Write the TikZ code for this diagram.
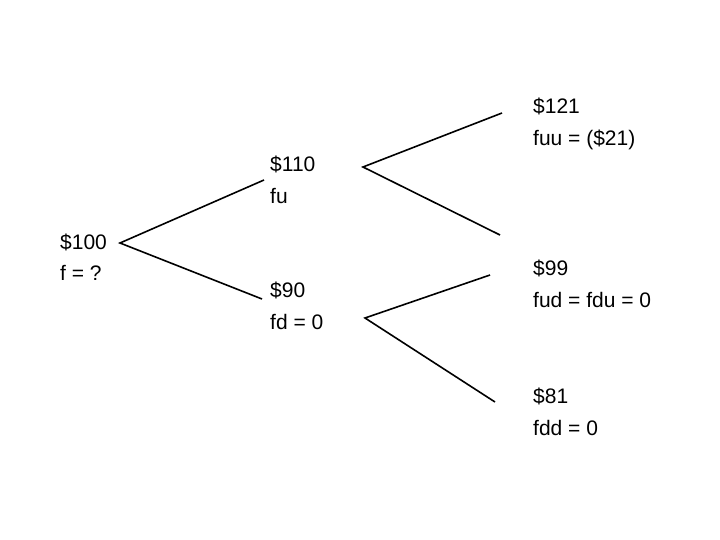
\documentclass[tikz,border=0pt]{standalone}
\usepackage{fontspec}
\setmainfont{Liberation Sans}

\begin{document}
\begin{tikzpicture}[x=1pt,y=-1pt,
            price/.style={anchor=west,align=left,inner sep=0pt,font=\fontsize{21}{31.5}\selectfont},
            branch/.style={line width=1.6pt}]
            \useasboundingbox (0,0) rectangle (720,540);
            \node[price] (s) at (60,257) {\$100\\f = ?};
            \node[price] (su) at (270,180) {\$110\\fu};
            \node[price] (sd) at (270,306) {\$90\\fd = 0};
            \node[price] (suu) at (533,124) {\$121\\fuu = (\$21)};
            \node[price] (sud) at (533,284) {\$99\\fud = fdu = 0};
            \node[price] (sdd) at (533,412) {\$81\\fdd = 0};
            \coordinate (s-fork) at (120,243);
            \coordinate (s-up) at (264,180);
            \coordinate (s-down) at (262,299);
            \coordinate (su-fork) at (363,167);
            \coordinate (su-up) at (502,113);
            \coordinate (su-down) at (500,235);
            \coordinate (sd-fork) at (365,318);
            \coordinate (sd-up) at (490,275);
            \coordinate (sd-down) at (495,402);
            \draw[branch] (s-up) -- (s-fork) -- (s-down);
            \draw[branch] (su-up) -- (su-fork) -- (su-down);
            \draw[branch] (sd-up) -- (sd-fork) -- (sd-down);
        \end{tikzpicture}
\end{document}
